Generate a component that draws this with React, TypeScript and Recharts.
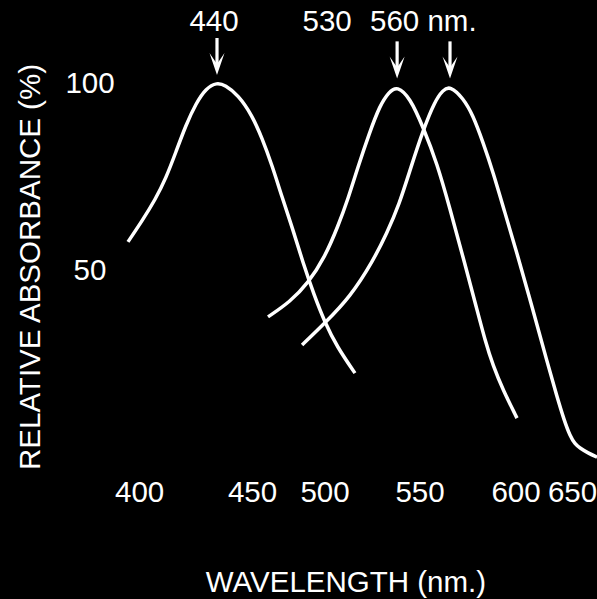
import { LineChart, Line, XAxis, YAxis, ReferenceDot, Label } from 'recharts';

// blue cone (440)
const wl440 = [393.8, 401.3, 408.2, 414.0, 419.3, 424.6, 430.0, 435.3, 441.1, 445.4, 452.3, 459.7, 465.0, 470.3, 475.6, 481.5, 486.8, 492.7, 498.5, 504.9, 514.4];
const abs440 = [57.5, 63.1, 68.7, 74.5, 81.5, 88.7, 94.5, 98.5, 100, 99.3, 96.7, 91.3, 85.2, 78.0, 69.5, 60.7, 51.9, 43.3, 35.9, 29.5, 22.5];

// green cone (530)
const wl530 = [468.2, 479.9, 489.5, 498.5, 505.4, 510.7, 516.0, 521.9, 527.7, 532.5, 536.8, 543.7, 550.6, 558.0, 564.9, 571.8, 579.3, 583.5, 587.8, 593.1, 600.5];
const abs530 = [37.5, 41.5, 46.5, 53.5, 61.7, 68.9, 77.5, 86.3, 94.0, 97.5, 99.1, 95.9, 88.1, 78.5, 66.3, 53.5, 39.3, 31.3, 24.4, 18.0, 10.5];

// red cone (560)
const wl560 = [486.3, 498.5, 511.8, 524.0, 531.4, 537.8, 544.2, 550.6, 556.9, 561.2, 564.9, 571.8, 577.1, 582.4, 587.8, 594.1, 600.5, 609.0, 616.5, 621.8, 625.5, 628.7, 631.3, 634.0, 638.2, 643.0];
const abs560 = [30.0, 35.9, 42.8, 52.4, 59.9, 67.3, 77.5, 87.3, 95.1, 98.0, 99.1, 95.9, 91.3, 84.1, 76.1, 65.2, 54.5, 39.3, 25.5, 16.1, 10.0, 5.7, 3.6, 2.5, 1.2, 0.1];

const xTicks = [400, 460, 498.5, 549, 600, 630];
const xTickLabels = ['400', '450', '500', '550', '600', '650'];
const yTicks = [50, 100];

const peakWl = [441.1, 536.8, 564.9];
const peakAbs = [100, 99.1, 99.1];
const peakLabels = ['440', '530', '560 nm.'];

const FONT = '"Liberation Sans", Arial, sans-serif';
const FS = 29.5;

const toPoints = (xs: number[], ys: number[]) => xs.map((x, i) => ({ x, y: ys[i] }));

const curves = [toPoints(wl440, abs440), toPoints(wl530, abs530), toPoints(wl560, abs560)];

// where each peak label sits relative to its arrow
const labelPlace = [
  { dx: -3, anchor: 'middle' },
  { dx: -70, anchor: 'middle' },
  { dx: -80, anchor: 'start' },
];

const XTick = (props: any) => {
  const { x, y, index } = props;
  return (
    <text x={x} y={y + 44} textAnchor="middle" fill="#fff" fontSize={FS} fontFamily={FONT}>
      {xTickLabels[index]}
    </text>
  );
};

const YTick = (props: any) => {
  const { y, payload } = props;
  return (
    <text x={90} y={y + 10} textAnchor="middle" fill="#fff" fontSize={FS} fontFamily={FONT}>
      {payload.value}
    </text>
  );
};

const arrowShape = (i: number) => (props: any) => {
  const { cx, cy } = props;
  const tip = cy - 7.5;
  const p = labelPlace[i];
  return (
    <g>
      <line x1={cx} y1={tip - 37} x2={cx} y2={tip - 10} stroke="#fff" strokeWidth={3.2} />
      <path d={`M${cx},${tip} L${cx - 7.5},${tip - 22} L${cx},${tip - 11} L${cx + 7.5},${tip - 22} Z`} fill="#fff" />
      <text x={cx + p.dx} y={30.5} textAnchor={p.anchor as any} fill="#fff" fontSize={FS} fontFamily={FONT}>
        {peakLabels[i]}
      </text>
    </g>
  );
};

export default function App() {
  return (
    <div style={{ position: 'absolute', left: 0, top: 0, width: 597, height: 599, background: '#000' }}>
      <LineChart width={597} height={599} margin={{ top: 45, right: 0, bottom: 0, left: 0 }}>
        <XAxis
          type="number"
          dataKey="x"
          domain={[380, 643]}
          allowDataOverflow
          ticks={xTicks}
          interval={0}
          axisLine={false}
          tickLine={false}
          tickSize={0}
          tickMargin={0}
          height={141.5}
          tick={<XTick />}
        >
          <Label
            content={() => (
              <text x={346} y={592} textAnchor="middle" fill="#fff" fontSize={FS} fontFamily={FONT}>
                WAVELENGTH (nm.)
              </text>
            )}
          />
        </XAxis>
        <YAxis
          type="number"
          domain={[0, 110]}
          ticks={yTicks}
          interval={0}
          axisLine={false}
          tickLine={false}
          tickSize={0}
          tickMargin={0}
          width={102}
          tick={<YTick />}
        >
          <Label
            content={() => (
              <text
                x={39.5}
                y={267}
                transform="rotate(-90 39.5 267)"
                textAnchor="middle"
                fill="#fff"
                fontSize={FS}
                fontFamily={FONT}
              >
                RELATIVE ABSORBANCE (%)
              </text>
            )}
          />
        </YAxis>
        {curves.map((c, i) => (
          <Line
            key={i}
            data={c}
            dataKey="y"
            type="basis"
            stroke="#fff"
            strokeWidth={3.5}
            dot={false}
            activeDot={false}
            isAnimationActive={false}
          />
        ))}
        {peakWl.map((w, i) => (
          <ReferenceDot key={i} x={w} y={peakAbs[i]} r={0} ifOverflow="visible" shape={arrowShape(i)} />
        ))}
      </LineChart>
    </div>
  );
}
